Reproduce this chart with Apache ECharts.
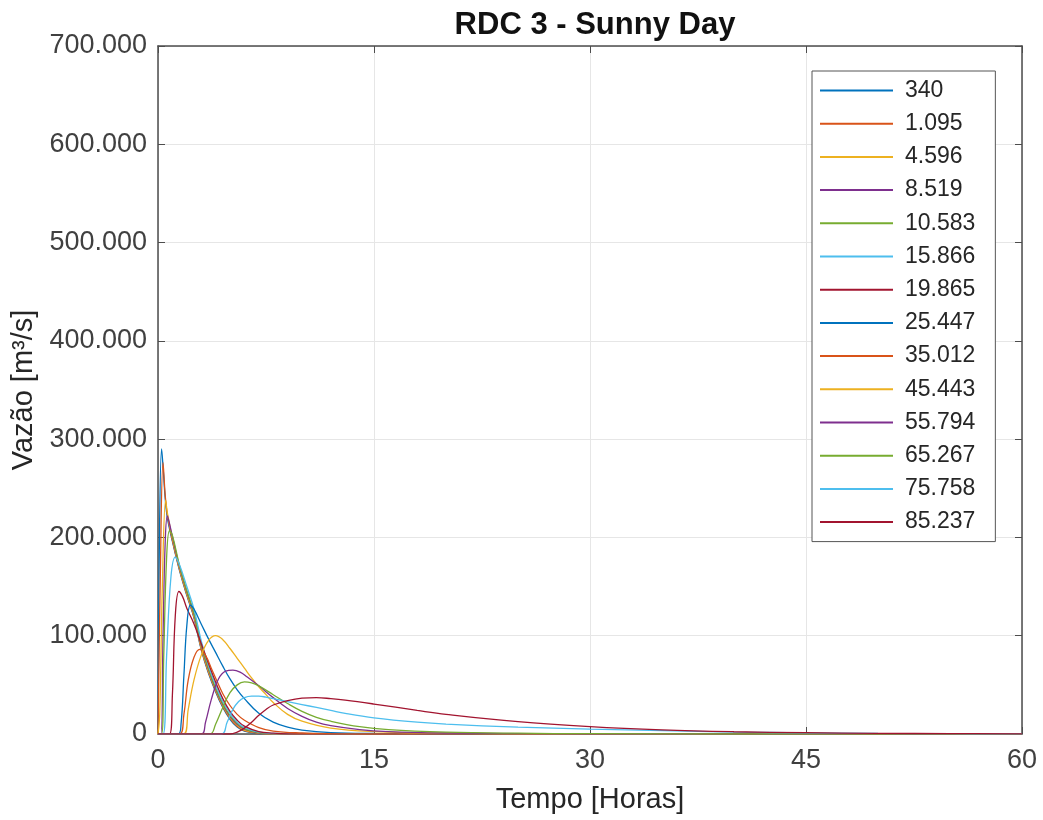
<!DOCTYPE html>
<html>
<head>
<meta charset="utf-8">
<script src="https://cdn.jsdelivr.net/npm/echarts@6/dist/echarts.min.js"></script>
<style>
  html, body { margin: 0; padding: 0; background: #fff; }
  #chart { width: 1043px; height: 820px; }
</style>
</head>
<body>
<div id="chart"></div>
<script>
// legend labels (distance along the river)
const names = ['340', '1.095', '4.596', '8.519', '10.583', '15.866', '19.865',
  '25.447', '35.012', '45.443', '55.794', '65.267', '75.758', '85.237'];

const xTicks = [0, 15, 30, 45, 60];
const yTicks = [0, 100000, 200000, 300000, 400000, 500000, 600000, 700000];

// hydrographs, [tempo (h), vazao (m3/s)]
const q340 = [[0,0],[0.1,200000],[0.25,290000],[0.35,272000],[0.5,240000],[0.65,220000],[1,196000],[1.5,166000],[2,141000],[2.5,118000],[3,86000],[3.5,62000],[4,43000],[4.5,27000],[5,15000],[5.5,7000],[6,3000],[7,500],[8,0],[60,0]];
const q1095 = [[0,0],[0.15,150000],[0.35,276000],[0.5,243000],[0.65,223000],[1,197000],[1.5,167000],[2,142000],[2.5,119000],[3,87000],[3.5,63000],[4,44000],[4.5,28000],[5,16000],[5.5,8000],[6,3500],[7,700],[8,0],[60,0]];
const q4596 = [[0,0],[0.12,20000],[0.3,150000],[0.53,238000],[0.65,225000],[1,199000],[1.5,168000],[2,143000],[2.5,120000],[3,88000],[3.5,64000],[4,45000],[4.5,29000],[5,17000],[5.5,9000],[6,4000],[7,1000],[8,0],[60,0]];
const q8519 = [[0,0],[0.2,0],[0.35,100000],[0.5,195000],[0.65,222000],[0.8,214000],[1,201000],[1.5,170000],[2,145000],[2.5,122000],[3,90000],[3.5,66000],[4,46000],[4.5,30000],[5,18000],[5.5,10000],[6,5000],[7,1200],[8,200],[60,0]];
const q10583 = [[0,0],[0.25,0],[0.4,80000],[0.6,180000],[0.8,207000],[1,202000],[1.5,171000],[2,146000],[2.5,123000],[3,91000],[3.5,67000],[4,47000],[4.5,31000],[5,19000],[5.5,11000],[6,5500],[7,1500],[8,300],[60,0]];
const q15866 = [[0,0],[0.35,0],[0.6,80000],[0.9,160000],[1.2,180000],[1.5,172000],[2,150000],[2.5,127000],[3,95000],[3.5,70000],[4,50000],[4.5,33000],[5,21000],[5.5,12000],[6,6500],[7,2000],[8,500],[60,0]];
const q19865 = [[0,0],[0.8,0],[1,40000],[1.2,120000],[1.45,145000],[1.7,140000],[2,128000],[2.5,112000],[3,92000],[3.5,72000],[4,53000],[4.5,36000],[5,23000],[5.5,14000],[6,8000],[7,2500],[8,800],[9,200],[60,0]];
const q25447 = [[0,0],[1.4,0],[1.6,10000],[1.8,60000],[2,110000],[2.25,131000],[2.5,127000],[3,112000],[3.5,97000],[4,83000],[4.5,69000],[5,56000],[5.5,45000],[6,36000],[7,21000],[8,12000],[9,7000],[10,4000],[12,1500],[15,500],[20,0],[60,0]];
const q35012 = [[0,0],[1.5,0],[1.8,20000],[2.1,55000],[2.5,78000],[2.9,86000],[3.3,80000],[3.7,67000],[4,57000],[4.5,41000],[5,29000],[5.5,20000],[6,14000],[7,6500],[8,3000],[10,1000],[12,300],[15,0],[60,0]];
const q45443 = [[0,0],[1.8,0],[2.1,25000],[2.5,55000],[3,80000],[3.5,95000],[4,100000],[4.5,96000],[5,87000],[5.5,77000],[6,67000],[6.5,57000],[7,48000],[7.5,40000],[8,32000],[9,20000],[10,13000],[12,6000],[15,2500],[20,800],[30,0],[60,0]];
const q55794 = [[0,0],[3,0],[3.3,12000],[3.7,35000],[4.2,56000],[4.7,64000],[5.2,65000],[5.7,63000],[6.2,58000],[7,49000],[8,37000],[9,26000],[10,18000],[11,12000],[12,8500],[14,4500],[16,2500],[20,1000],[25,300],[30,0],[60,0]];
const q65267 = [[0,0],[3.6,0],[4,10000],[4.5,27000],[5,42000],[5.5,50000],[6,53000],[6.5,52000],[7,49000],[8,40000],[9,31000],[10,23000],[11,17000],[12,13000],[14,7500],[16,4500],[20,2000],[25,800],[30,300],[40,0],[60,0]];
const q75758 = [[0,0],[4.4,0],[4.8,12000],[5.2,25000],[5.6,33000],[6,37000],[6.5,38500],[7,38500],[7.5,37500],[8,36000],[9,33000],[10,30000],[11,27000],[12,24000],[13,21000],[15,16500],[18,12000],[20,10000],[25,7000],[30,5000],[35,3500],[40,2000],[45,1200],[50,600],[55,300],[60,200]];
const q85237 = [[0,0],[5,0],[5.5,2000],[6,6000],[6.5,12000],[7,19000],[7.5,25000],[8,29500],[9,34000],[10,36500],[11,37000],[12,36000],[13,34500],[15,30500],[18,24000],[20,20000],[25,12500],[30,7500],[35,4200],[40,2300],[45,1300],[50,700],[55,400],[60,200]];

const curves = [q340, q1095, q4596, q8519, q10583, q15866, q19865,
  q25447, q35012, q45443, q55794, q65267, q75758, q85237];

// matlab default line colors
const colors = ['#0072BD', '#D95319', '#EDB120', '#7E2F8E', '#77AC30', '#4DBEEE', '#A2142F'];

const font = '"Liberation Sans", Arial, Helvetica, sans-serif';
const axisColor = '#4d4d4d';

const chart = echarts.init(document.getElementById('chart'), null, { renderer: 'canvas' });

function fmtY(v) {
  return v === 0 ? '0' : (v / 1000) + '.000';
}

const series = curves.map(function (c, i) {
  return {
    name: names[i],
    type: 'line',
    data: c,
    xAxisIndex: 0,
    yAxisIndex: 0,
    showSymbol: false,
    symbol: 'none',
    smooth: 0.4,
    clip: true,
    lineStyle: { width: 1.3, color: colors[i % colors.length] },
    itemStyle: { color: colors[i % colors.length] }
  };
});

const option = {
  animation: false,
  backgroundColor: '#fff',
  title: {
    text: 'RDC 3 - Sunny Day',
    left: 590,
    top: 5,
    textAlign: 'center',
    textStyle: { fontFamily: font, fontSize: 31, fontWeight: 'bold', color: '#111' }
  },
  legend: {
    orient: 'vertical',
    left: 812,
    top: 71,
    data: names,
    icon: 'rect',
    itemWidth: 73,
    itemHeight: 2,
    itemGap: 10.2,
    padding: [8, 20, 8, 8],
    backgroundColor: '#fff',
    borderColor: '#555',
    borderWidth: 1,
    borderRadius: 0,
    textStyle: { fontFamily: font, fontSize: 23, lineHeight: 22, color: '#262626', padding: [0, 0, 0, 7] }
  },
  grid: { left: 158, right: 21, top: 46, bottom: 86 },
  xAxis: [{
    type: 'value',
    min: xTicks[0],
    max: xTicks[xTicks.length - 1],
    interval: 15,
    name: 'Tempo [Horas]',
    nameLocation: 'middle',
    nameGap: 51,
    nameTextStyle: { fontFamily: font, fontSize: 29, color: '#262626' },
    axisLine: { show: true, onZero: false, lineStyle: { color: axisColor, width: 1.5 } },
    axisTick: { inside: true, length: 7, lineStyle: { color: axisColor } },
    axisLabel: { fontFamily: font, fontSize: 27, color: '#404040', margin: 13 },
    splitLine: { show: true, lineStyle: { color: '#e6e6e6', width: 1 } }
  }, {
    type: 'value',
    position: 'top',
    min: xTicks[0],
    max: xTicks[xTicks.length - 1],
    interval: 15,
    axisLine: { show: true, onZero: false, lineStyle: { color: axisColor, width: 1.5 } },
    axisTick: { inside: true, length: 7, lineStyle: { color: axisColor } },
    axisLabel: { show: false },
    splitLine: { show: false }
  }],
  yAxis: [{
    type: 'value',
    min: yTicks[0],
    max: yTicks[yTicks.length - 1],
    interval: 100000,
    name: 'Vazão [m³/s]',
    nameLocation: 'middle',
    nameGap: 117,
    nameRotate: 90,
    nameTextStyle: { fontFamily: font, fontSize: 29, color: '#262626' },
    axisLine: { show: true, onZero: false, lineStyle: { color: axisColor, width: 1.5 } },
    axisTick: { inside: true, length: 7, lineStyle: { color: axisColor } },
    axisLabel: { fontFamily: font, fontSize: 27, color: '#404040', margin: 11, formatter: fmtY },
    splitLine: { show: true, lineStyle: { color: '#e6e6e6', width: 1 } }
  }, {
    type: 'value',
    position: 'right',
    min: yTicks[0],
    max: yTicks[yTicks.length - 1],
    interval: 100000,
    axisLine: { show: true, onZero: false, lineStyle: { color: axisColor, width: 1.5 } },
    axisTick: { inside: true, length: 7, lineStyle: { color: axisColor } },
    axisLabel: { show: false },
    splitLine: { show: false }
  }],
  series: series
};

chart.setOption(option);
</script>
</body>
</html>
